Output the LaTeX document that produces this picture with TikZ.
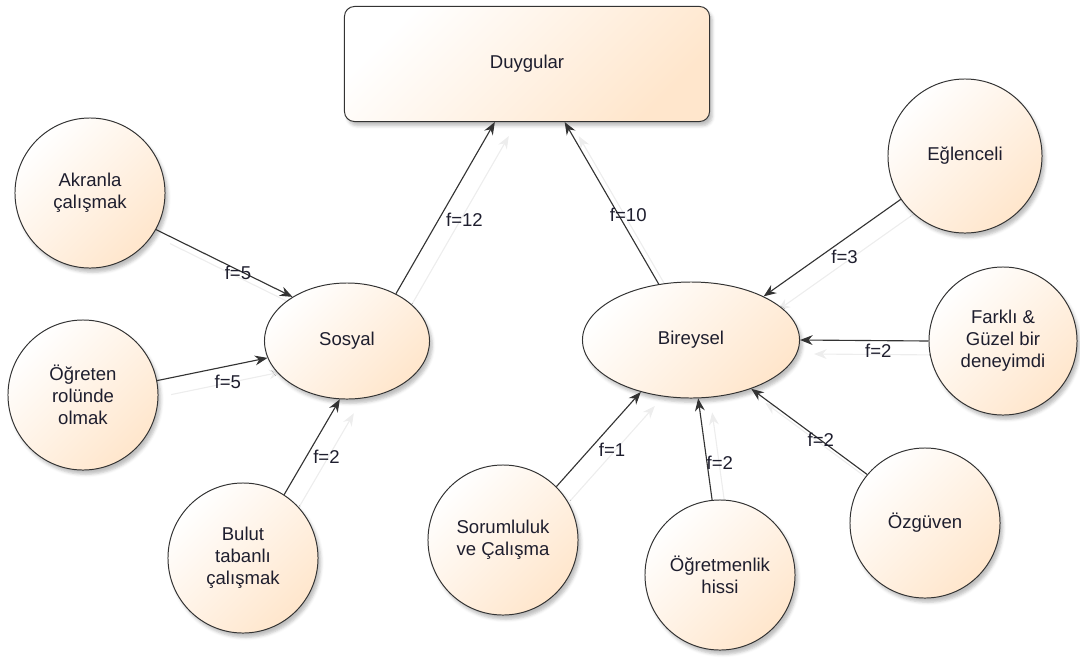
\documentclass[tikz,border=0pt]{standalone}
\usepackage{fontspec}
\setmainfont{Liberation Sans}
\usetikzlibrary{shapes.geometric,arrows.meta,shadows.blur,backgrounds}
\definecolor{peach}{HTML}{FFE6CC}
\definecolor{linecol}{HTML}{333333}
\definecolor{textcol}{HTML}{1E1E2E}
\tikzset{
  every node/.style={font=\fontsize{13.2pt}{15.6pt}\selectfont, text=textcol},
  shaded box/.style={draw=linecol, line width=0.7pt, top color=white, bottom color=peach,
    shading angle=45, blur shadow={shadow xshift=2pt, shadow yshift=-3pt, shadow opacity=25}},
  topic/.style={shaded box, rectangle, rounded corners=0.25cm,
    minimum width=9.125cm, minimum height=2.875cm},
  group/.style={shaded box, ellipse, minimum height=2.9cm},
  answer/.style={shaded box, circle, minimum size=3.75cm, align=center, inner sep=0pt},
  link/.style={draw=linecol, line width=0.8pt, -{Stealth[length=9pt,width=7pt]}},
  linkshadow/.style={draw=gray!14, line width=0.8pt, -{Stealth[length=9pt,width=7pt]},
    transform canvas={xshift=0.35cm,yshift=-0.35cm}},
  flabel/.style={inner sep=1pt}
}
\begin{document}
\begin{tikzpicture}[x=0.025cm, y=-0.025cm]
  \useasboundingbox (0,0) rectangle (1080,660);
  % main nodes
  \node[topic] (duygular) at (527,64) {Duygular};
  \node[group, minimum width=4.125cm] (sosyal) at (347,341) {Sosyal};
  \node[group, minimum width=5.425cm] (bireysel) at (691,340) {Bireysel};
  % answers
  \node[answer] (akranla) at (90,193) {Akranla\\çalışmak};
  \node[answer] (ogreten) at (83,395) {Öğreten\\rolünde\\olmak};
  \node[answer] (bulut) at (243,558) {Bulut\\tabanlı\\çalışmak};
  \node[answer, minimum size=3.85cm] (eglenceli) at (965,156) {Eğlenceli};
  \node[answer, minimum size=3.7cm] (farkli) at (1003,341) {Farklı \&\\Güzel bir\\deneyimdi};
  \node[answer] (sorumluluk) at (503,540) {Sorumluluk\\ve Çalışma};
  \node[answer] (ogretmenlik) at (720,575) {Öğretmenlik\\hissi};
  \node[answer] (ozguven) at (925,523) {Özgüven};
  % faint copies of the links
  \begin{scope}[on background layer]
    \foreach \a/\b in {akranla.-29/sosyal.141, ogreten.11/sosyal.192, bulut.57/sosyal.-97,
        sosyal.44/duygular.-119, bireysel.120/duygular.-57, eglenceli.214/bireysel.31,
        farkli.180/bireysel.0, sorumluluk.45/bireysel.-134, ogretmenlik.96/bireysel.-83,
        ozguven.140/bireysel.-39}
      \draw[linkshadow] (\a) -- (\b);
  \end{scope}
  % links
  \draw[link] (akranla.-29) -- (sosyal.141) node[flabel, pos=0.6, yshift=-0.07cm] {f=5};
  \draw[link] (ogreten.11) -- (sosyal.192) node[flabel, pos=0.64, yshift=-0.4cm] {f=5};
  \draw[link] (bulut.57) -- (sosyal.-97) node[flabel, pos=0.4, xshift=0.5cm] {f=2};
  \draw[link] (sosyal.44) -- (duygular.-119) node[flabel, pos=0.43, xshift=0.65cm] {f=12};
  \draw[link] (bireysel.120) -- (duygular.-57) node[flabel, pos=0.43, xshift=0.25cm] {f=10};
  \draw[link] (eglenceli.214) -- (bireysel.31) node[flabel, pos=0.41, yshift=-0.45cm] {f=3};
  \draw[link] (farkli.180) -- (bireysel.0) node[flabel, pos=0.39, yshift=-0.25cm] {f=2};
  \draw[link] (sorumluluk.45) -- (bireysel.-134) node[flabel, pos=0.39, xshift=0.57cm] {f=1};
  \draw[link] (ogretmenlik.96) -- (bireysel.-83) node[flabel, pos=0.37, xshift=0.32cm] {f=2};
  \draw[link] (ozguven.140) -- (bireysel.-39) node[flabel, pos=0.4] {f=2};
\end{tikzpicture}
\end{document}
